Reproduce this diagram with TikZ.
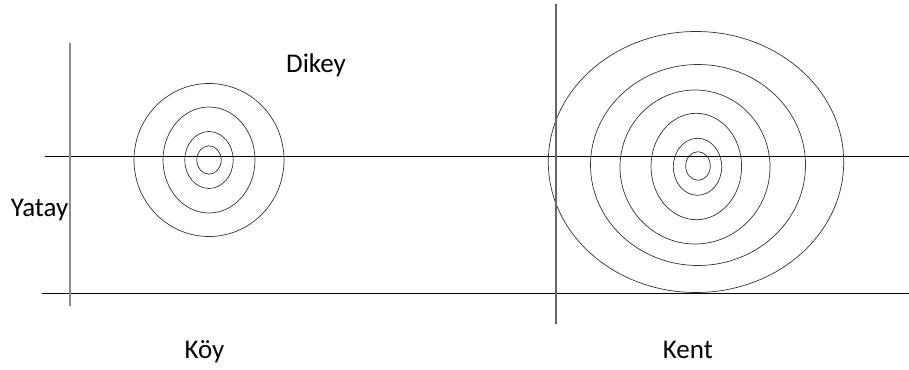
\documentclass[tikz,border=0pt]{standalone}
\usepackage{fontspec}
\setmainfont{Carlito}

\begin{document}
\begin{tikzpicture}[
    x=1pt, y=-1pt,
    ring/.style={draw=black!80, line width=0.7pt},
    axis/.style={draw=black, line width=1.1pt},
    pole/.style={draw=black!45, line width=1.6pt},
    word/.style={anchor=base west, inner sep=0pt, font=\fontsize{27}{32}\selectfont}
  ]
  \useasboundingbox (0,0) rectangle (909,369);

  % Horizontal lines
  \draw[axis] (45,156.5) -- (909,156.5);
  \draw[axis] (42,293.3) -- (909,293.3);

  % Koy rings
  \coordinate (koyc) at (209,160);
  \foreach \rx/\ry in {75/76.5, 46/53, 24.2/28.5, 12.2/14.2}
    \draw[ring] (koyc) ellipse [x radius=\rx pt, y radius=\ry pt];

  % Kent rings
  \coordinate (kentc) at (697,165);
  \foreach \dx/\dy/\rx/\ry in {-1/-3/147.7/130.5, 1/0/107.5/100.5, -2/2/75/77,
                               -0.7/1.5/45.3/53.2, 0.5/1.8/24.2/28.5, 1/1/12.3/14.3}
    \draw[ring] ([shift={(\dx,\dy)}]kentc) ellipse [x radius=\rx pt, y radius=\ry pt];

  % Vertical lines
  \draw[pole] (70,42.7) -- (70,306);
  \draw[pole, draw=black!60] (556,4) -- (556,323.5);

  % Labels
  \node[word] (dikey) at (286,72.7) {Dikey};
  \node[word] (yatay) at (10.7,216) {Yatay};
  \node[word] (koy) at (184.3,358) {Köy};
  \node[word] (kent) at (662.7,358) {Kent};
\end{tikzpicture}
\end{document}
